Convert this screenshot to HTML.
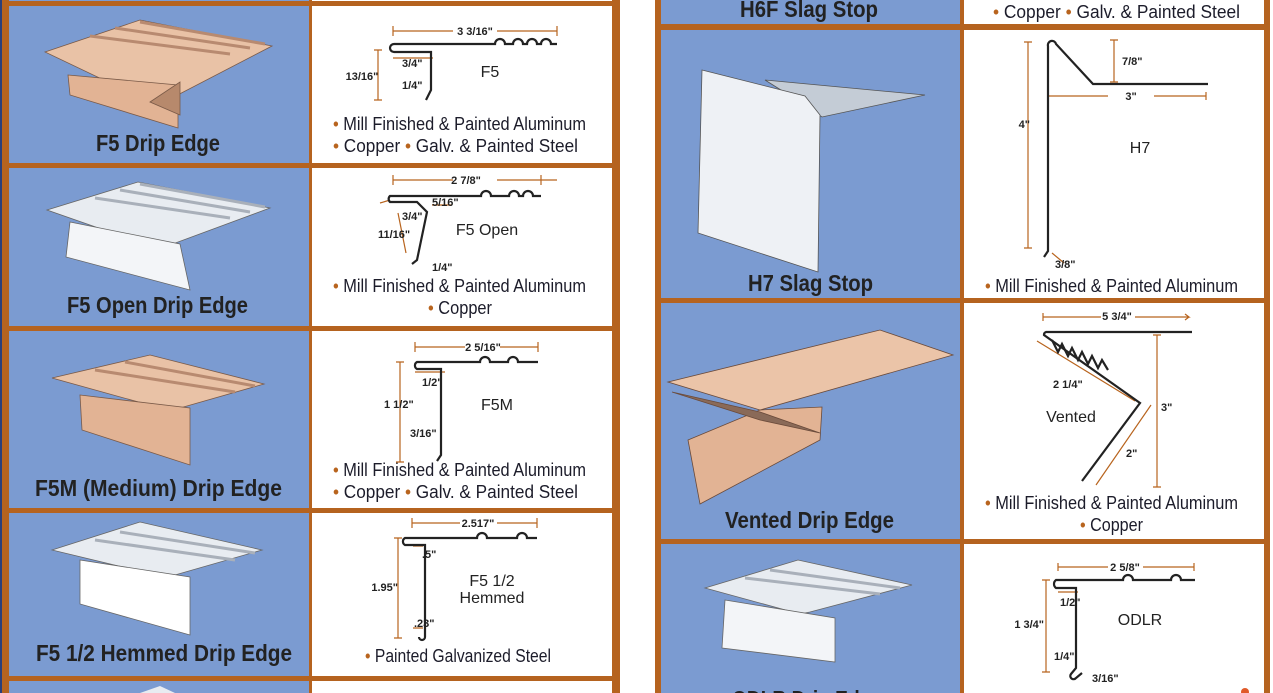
<!DOCTYPE html>
<html><head><meta charset="utf-8"><style>
body{margin:0;background:#fff;width:1273px;height:693px;overflow:hidden}
svg{display:block}
.t{font-family:"Liberation Sans Narrow","Liberation Sans",sans-serif;font-weight:bold;fill:#222;text-anchor:start}
.b{font-family:"Liberation Sans Narrow","Liberation Sans",sans-serif;fill:#1c1c2a;text-anchor:start;font-size:18px}
.d{font-family:"Liberation Sans Narrow","Liberation Sans",sans-serif;font-weight:bold;fill:#222;font-size:11px}
.n{font-family:"Liberation Sans Narrow","Liberation Sans",sans-serif;fill:#222;font-size:16px;text-anchor:middle}
.dot{fill:#b8641e}
.p{fill:none;stroke:#222;stroke-width:2.2}
.m{fill:none;stroke:#b8641e;stroke-width:1.2}
</style></head><body>
<svg width="1273" height="693" viewBox="0 0 1273 693">
<rect x="0" y="0" width="620" height="693" fill="#b5631f"/>
<rect x="0" y="0" width="2" height="693" fill="#2a3f7a"/>
<rect x="655" y="0" width="615" height="693" fill="#b5631f"/>
<g fill="#7b9bd1">
<rect x="9" y="-5" width="300" height="6"/><rect x="9" y="6" width="300" height="157"/><rect x="9" y="168" width="300" height="158"/>
<rect x="9" y="331" width="300" height="177"/><rect x="9" y="513" width="300" height="163"/><rect x="9" y="681" width="300" height="20"/>
<rect x="661" y="-5" width="299" height="29"/><rect x="661" y="30" width="299" height="268"/><rect x="661" y="303" width="299" height="236"/><rect x="661" y="544" width="299" height="160"/>
</g>
<g fill="#fff">
<rect x="312" y="-5" width="300" height="6"/><rect x="312" y="6" width="300" height="157"/><rect x="312" y="168" width="300" height="158"/>
<rect x="312" y="331" width="300" height="177"/><rect x="312" y="513" width="300" height="163"/><rect x="312" y="681" width="300" height="20"/>
<rect x="964" y="-5" width="300" height="29"/><rect x="964" y="30" width="300" height="268"/><rect x="964" y="303" width="300" height="236"/><rect x="964" y="544" width="300" height="160"/>
</g>

<g stroke="#7a5a48" stroke-width="0.8">
<polygon points="45,52 140,20 272,46 168,100 150,102" fill="#e9c2a6"/>
<path d="M90,36 L230,54 M115,28 L250,48 M140,22 L265,44" stroke="#b88a70" stroke-width="3" fill="none"/>
<polygon points="68,75 178,85 178,128 70,95" fill="#e2b394"/>
<polygon points="150,102 180,82 180,115" fill="#b7896c"/>
</g>
<g stroke="#666" stroke-width="0.8">
<polygon points="47,210 138,182 270,208 170,245 150,246" fill="#e8ecf1"/>
<path d="M95,198 L230,218 M120,190 L250,212 M140,184 L265,207" stroke="#a9b0ba" stroke-width="3" fill="none"/>
<polygon points="70,222 180,244 190,290 66,257" fill="#f3f5f8"/>
</g>
<g stroke="#7a5a48" stroke-width="0.8">
<polygon points="52,378 150,355 264,384 180,408 160,408" fill="#e9c2a6"/>
<path d="M95,370 L235,392 M125,362 L255,386" stroke="#b88a70" stroke-width="3" fill="none"/>
<polygon points="80,395 190,408 190,465 82,430" fill="#e2b394"/>
</g>
<g stroke="#666" stroke-width="0.8">
<polygon points="52,550 140,522 262,550 175,575 160,576" fill="#e8ecf1"/>
<path d="M95,540 L235,560 M120,532 L255,553" stroke="#a9b0ba" stroke-width="3" fill="none"/>
<polygon points="80,560 190,577 190,635 80,604" fill="#fff"/>
</g>
<g stroke="#555" stroke-width="0.8">
<polygon points="765,80 925,95 822,117 800,102" fill="#c4ccd6"/>
<polygon points="702,70 805,96 820,115 818,272 698,233" fill="#eef1f5"/>
</g>
<g stroke="#6a4a3a" stroke-width="0.8">
<polygon points="688,440 700,504 820,440 822,407 760,410" fill="#e2b394"/>
<polygon points="668,382 880,330 953,355 760,410" fill="#ebc4a8"/>
<polygon points="672,392 760,412 820,433 760,420" fill="#8a6a58"/>
</g>
<g stroke="#666" stroke-width="0.8">
<polygon points="705,588 798,560 912,585 810,612 800,614" fill="#e8ecf1"/>
<path d="M745,578 L880,594 M770,570 L900,588" stroke="#a9b0ba" stroke-width="3" fill="none"/>
<polygon points="725,600 835,618 835,662 722,648" fill="#f3f5f8"/>
</g>
<polygon points="140,693 160,686 175,693" fill="#e8ecf1"/>

<g class="t" font-size="23">
<text x="96" y="151" textLength="124" lengthAdjust="spacingAndGlyphs">F5 Drip Edge</text>
<text x="67" y="313" textLength="181" lengthAdjust="spacingAndGlyphs">F5 Open Drip Edge</text>
<text x="35" y="496" textLength="247" lengthAdjust="spacingAndGlyphs">F5M (Medium) Drip Edge</text>
<text x="36" y="661" textLength="256" lengthAdjust="spacingAndGlyphs">F5 1/2 Hemmed Drip Edge</text>
<text x="740" y="17" textLength="138" lengthAdjust="spacingAndGlyphs">H6F Slag Stop</text>
<text x="748" y="291" textLength="125" lengthAdjust="spacingAndGlyphs">H7 Slag Stop</text>
<text x="725" y="528" textLength="169" lengthAdjust="spacingAndGlyphs">Vented Drip Edge</text>
<text x="732" y="707" textLength="150" lengthAdjust="spacingAndGlyphs">ODLR Drip Edge</text>
</g>

<g class="b">
<text x="333" y="130" textLength="253" lengthAdjust="spacingAndGlyphs"><tspan class="dot">•</tspan> Mill Finished &amp; Painted Aluminum</text>
<text x="333" y="152" textLength="245" lengthAdjust="spacingAndGlyphs"><tspan class="dot">•</tspan> Copper   <tspan class="dot">•</tspan> Galv. &amp; Painted Steel</text>
<text x="333" y="292" textLength="253" lengthAdjust="spacingAndGlyphs"><tspan class="dot">•</tspan> Mill Finished &amp; Painted Aluminum</text>
<text x="428" y="314" textLength="64" lengthAdjust="spacingAndGlyphs"><tspan class="dot">•</tspan> Copper</text>
<text x="333" y="476" textLength="253" lengthAdjust="spacingAndGlyphs"><tspan class="dot">•</tspan> Mill Finished &amp; Painted Aluminum</text>
<text x="333" y="498" textLength="245" lengthAdjust="spacingAndGlyphs"><tspan class="dot">•</tspan> Copper   <tspan class="dot">•</tspan> Galv. &amp; Painted Steel</text>
<text x="365" y="662" textLength="186" lengthAdjust="spacingAndGlyphs"><tspan class="dot">•</tspan> Painted Galvanized Steel</text>
<text x="993" y="18" textLength="247" lengthAdjust="spacingAndGlyphs"><tspan class="dot">•</tspan> Copper   <tspan class="dot">•</tspan> Galv. &amp; Painted Steel</text>
<text x="985" y="292" textLength="253" lengthAdjust="spacingAndGlyphs"><tspan class="dot">•</tspan> Mill Finished &amp; Painted Aluminum</text>
<text x="985" y="509" textLength="253" lengthAdjust="spacingAndGlyphs"><tspan class="dot">•</tspan> Mill Finished &amp; Painted Aluminum</text>
<text x="1080" y="531" textLength="63" lengthAdjust="spacingAndGlyphs"><tspan class="dot">•</tspan> Copper</text>
</g>

<g>
<path class="m" d="M393 26v10M393 31h60M497 31h60M557 26v10M378 50v50M374 50h8M374 100h8M393 58h40"/>
<text class="d" x="475" y="35" text-anchor="middle">3 3/16"</text>
<path class="p" d="M557 44h-6a5 5 0 0 0-10 0h-4a5 5 0 0 0-10 0h-4a5 5 0 0 0-10 0h-8a5 5 0 0 0-10 0h-101a4 4 0 0 0 0 8h37v38l-5 10"/>
<text class="d" x="402" y="67">3/4"</text><text class="d" x="362" y="80" text-anchor="middle">13/16"</text><text class="d" x="402" y="89">1/4"</text>
<text class="n" x="490" y="77">F5</text>
<path class="m" d="M393 175v10M393 180h60M497 180h60M541 175v10M380 203l10-3M398 213l8 40M432 205h20"/>
<text class="d" x="466" y="184" text-anchor="middle">2 7/8"</text>
<path class="p" d="M541 196h-8a5 5 0 0 0-10 0h-4a5 5 0 0 0-10 0h-18a5 5 0 0 0-10 0h-91a4 4 0 0 0 0 6h27l10 10l-10 48l-5 4"/>
<text class="d" x="402" y="220">3/4"</text><text class="d" x="432" y="206">5/16"</text><text class="d" x="378" y="238">11/16"</text><text class="d" x="432" y="271">1/4"</text>
<text class="n" x="487" y="235">F5 Open</text>
<path class="m" d="M415 342v10M415 347h50M500 347h38M538 342v10M400 362v100M396 362h8M396 462h8M415 372h30"/>
<text class="d" x="483" y="351" text-anchor="middle">2 5/16"</text>
<path class="p" d="M538 362h-20a5 5 0 0 0-10 0h-18a5 5 0 0 0-10 0h-63a4 4 0 0 0 0 7h24v86l-4 6"/>
<text class="d" x="422" y="386">1/2"</text><text class="d" x="384" y="408">1 1/2"</text><text class="d" x="410" y="437">3/16"</text>
<text class="n" x="497" y="410">F5M</text>
<path class="m" d="M412 518v10M412 523h48M497 523h40M537 518v10M398 538v100M394 538h8M394 638h8M413 546h10M413 628h10"/>
<text class="d" x="478" y="527" text-anchor="middle">2.517"</text>
<path class="p" d="M537 538h-10a5 5 0 0 0-10 0h-30a5 5 0 0 0-10 0h-72a4 4 0 0 0 0 7h20v92a3 3 0 0 1-6 0"/>
<text class="d" x="422" y="558">.5"</text><text class="d" x="398" y="591" text-anchor="end">1.95"</text><text class="d" x="414" y="627">.23"</text>
<text class="n" x="492" y="586">F5 1/2</text><text class="n" x="492" y="603">Hemmed</text>
<path class="m" d="M1028 42v206M1024 42h8M1024 248h8M1114 40v42M1110 40h8M1110 82h8M1048 96h60M1154 96h52M1048 92v8M1206 92v8M1052 253l12 10"/>
<path class="p" d="M1208 84h-115l-37-40a4 4 0 0 0-8 2v205l-4 6"/>
<text class="d" x="1122" y="65">7/8"</text><text class="d" x="1131" y="100" text-anchor="middle">3"</text><text class="d" x="1030" y="128" text-anchor="end">4"</text><text class="d" x="1055" y="268">3/8"</text>
<text class="n" x="1140" y="153">H7</text>
<path class="m" d="M1043 313v8M1043 317h58M1135 317h54l-4-3M1189 317l-4 3M1157 335v152M1153 335h8M1153 487h8M1037 341l98 60M1151 405l-55 80"/>
<text class="d" x="1117" y="320" text-anchor="middle">5 3/4"</text>
<path class="p" d="M1192 332h-146a3 3 0 0 0-2 3l96 68l-58 78"/>
<path class="p" stroke-width="1.4" d="M1052 340l6 12l4-8l6 12l4-8l6 12l4-8l6 12l4-8l6 12l4-8l6 10"/>
<text class="d" x="1053" y="388">2 1/4"</text><text class="d" x="1161" y="411">3"</text><text class="d" x="1126" y="457">2"</text>
<text class="n" x="1071" y="422">Vented</text>
<path class="m" d="M1058 563v8M1058 567h50M1143 567h51M1194 563v8M1046 580v92M1042 580h8M1042 672h8M1058 592h20"/>
<text class="d" x="1125" y="571" text-anchor="middle">2 5/8"</text>
<path class="p" d="M1195 580h-14a5 5 0 0 0-10 0h-38a5 5 0 0 0-10 0h-67a5 5 0 0 0 0 8h20v80l-5 6a3 3 0 0 0 5 4l6-5"/>
<text class="d" x="1060" y="606">1/2"</text><text class="d" x="1044" y="628" text-anchor="end">1 3/4"</text><text class="d" x="1054" y="660">1/4"</text><text class="d" x="1092" y="682">3/16"</text>
<text class="n" x="1140" y="625">ODLR</text>
</g>
<circle cx="1245" cy="692" r="4" fill="#e05a2a"/>
</svg>
</body></html>
